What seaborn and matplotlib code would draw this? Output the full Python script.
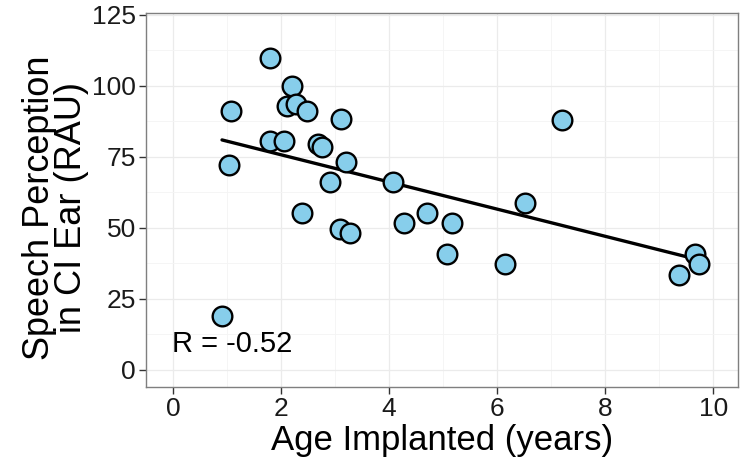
import matplotlib
matplotlib.use("Agg")
import matplotlib.pyplot as plt
import seaborn as sns
import pandas as pd
from matplotlib.ticker import MultipleLocator

age = [1.80, 2.20, 1.07, 2.11, 2.28, 2.48, 3.11, 1.80, 2.06, 2.69, 2.76, 1.04,
       3.20, 2.91, 4.07, 7.20, 6.52, 2.39, 4.70, 5.17, 4.28, 3.09, 3.28, 5.07,
       6.15, 9.67, 9.74, 9.37, 0.91]
speech = [109.9, 100.0, 91.2, 93.0, 93.7, 91.2, 88.4, 80.6, 80.6, 79.6, 78.5, 72.2,
          73.2, 66.2, 66.2, 88.0, 58.8, 55.3, 55.3, 51.8, 51.8, 49.6, 48.2, 40.8,
          37.3, 40.8, 37.3, 33.5, 19.0]
x_ticks = [0, 2, 4, 6, 8, 10]
y_ticks = [0, 25, 50, 75, 100, 125]
r_label = "R = -0.52"

df = pd.DataFrame({"age": age, "speech": speech})

sns.set_theme(style="white")
plt.rcParams['font.family'] = ['Liberation Sans', 'DejaVu Sans']

fig = plt.figure(figsize=(7.44, 4.61), dpi=100)
ax = fig.add_axes([0.196, 0.1605, 0.796, 0.8115])

sns.regplot(data=df, x="age", y="speech", ci=None, ax=ax,
            scatter=False, line_kws=dict(color="black", lw=2.4, zorder=2))
sns.scatterplot(data=df, x="age", y="speech", ax=ax, s=200, color="#87CEEB",
                edgecolor="black", linewidth=1.7, zorder=3)

ax.set_xlim(-0.5, 10.46)
ax.set_ylim(-6, 125.6)
ax.set_xticks(x_ticks)
ax.set_yticks(y_ticks)
ax.xaxis.set_minor_locator(MultipleLocator(1))
ax.yaxis.set_minor_locator(MultipleLocator(12.5))
ax.grid(True, which="major", color="#ebebeb", lw=0.9)
ax.grid(True, which="minor", color="#f4f4f4", lw=0.6)
ax.set_axisbelow(True)
for sp in ax.spines.values():
    sp.set_color("#7f7f7f")
    sp.set_linewidth(1.0)

ax.tick_params(axis="both", which="major", length=5, width=1, color="#333333",
               labelsize=19, labelcolor="#1a1a1a", pad=2, bottom=True, left=True)
ax.tick_params(axis="both", which="minor", length=0)

ax.set_xlabel("Age Implanted (years)", fontsize=25, color="black", labelpad=2)
ax.set_ylabel("Speech Perception\nin CI Ear (RAU)", fontsize=26, color="black",
              labelpad=2, linespacing=0.9)
ax.yaxis.set_label_coords(-0.096, 0.48)

ax.text(1.09, 9, r_label, fontsize=21, ha="center", va="center", color="black")

fig.savefig("out.png", dpi=100)
